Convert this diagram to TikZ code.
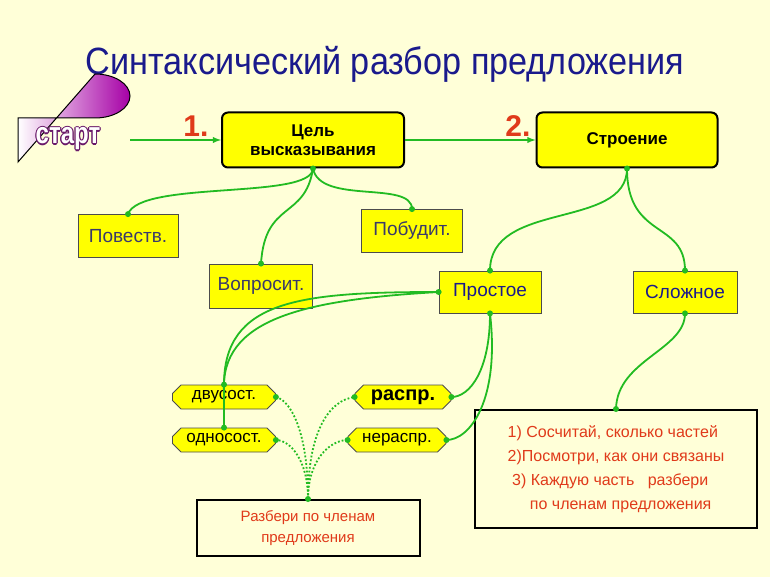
\documentclass[tikz,border=0pt]{standalone}
\usepackage{fontspec}
\setmainfont{Liberation Sans}
\usetikzlibrary{shapes.misc}
\definecolor{bg}{HTML}{FFFFD8}
\definecolor{ye}{HTML}{FFFF00}
\definecolor{gr}{HTML}{22BB22}
\definecolor{tb}{HTML}{1A1A8C}
\definecolor{tx}{HTML}{3A3A6A}
\definecolor{rd}{HTML}{E03A1A}
\definecolor{pu}{HTML}{6A1A6A}
\begin{document}
\begin{tikzpicture}[x=1pt,y=-1pt,
 ybox/.style={draw=black!70,fill=ye,line width=0.8pt,inner sep=0pt,font=\fontsize{19}{20}\selectfont\color{tx}},
 mainbox/.style={draw=black,fill=ye,line width=2pt,rounded corners=6pt,inner sep=0pt,font=\bfseries\fontsize{17}{19}\selectfont,align=center},
 oct/.style={draw=black!70,fill=ye,line width=0.8pt,chamfered rectangle,chamfered rectangle xsep=5pt,inner sep=0pt,font=\fontsize{17}{18}\selectfont},
 conn/.style={draw=gr,line width=1.8pt},
 dconn/.style={draw=gr,line width=1.8pt,dotted},
 dot/.style={circle,fill=gr,inner sep=0pt,minimum size=6pt},
 st/.style={font=\bfseries\fontsize{30}{30}\selectfont,xscale=0.8,inner sep=0pt}]
\fill[bg] (0,0) rectangle (770,577);
\useasboundingbox (0,0) rectangle (770,577);
\node[font=\fontsize{38}{40}\selectfont,text=tb,xscale=0.9] (title) at (385,64) {Синтаксический разбор предложения};
% start
\path[draw=black,line width=1pt,left color=white,right color=violet!70!magenta] (18,118) -- (95,118) arc[start angle=90,end angle=-90,x radius=35,y radius=22] -- (18,162) -- cycle;
\foreach \dx/\dy in {-1.2/0,1.2/0,0/-1.2,0/1.2,-0.9/-0.9,0.9/0.9,-0.9/0.9,0.9/-0.9}
  \node[st,text=pu] at (68+\dx,139+\dy) {старт};
\node[st,text=white] (start) at (68,139) {старт};
\coordinate (startr) at (130,140);
\node[font=\bfseries\fontsize{30}{30}\selectfont,text=rd] (n1) at (196,126) {1.};
\node[font=\bfseries\fontsize{30}{30}\selectfont,text=rd] (n2) at (518,126) {2.};
\node[mainbox,minimum width=182pt,minimum height=55pt] (cel) at (313,140) {Цель\\высказывания};
\node[mainbox,minimum width=181pt,minimum height=55pt] (str) at (627,140) {Строение};
\node[ybox,minimum width=100pt,minimum height=43pt] (pov) at (128,236) {Повеств.};
\node[ybox,minimum width=103pt,minimum height=44pt] (vop) at (261,286) {Вопросит.};
\node[ybox,minimum width=101pt,minimum height=43pt] (pob) at (412,231) {Побудит.};
\node[ybox,minimum width=102pt,minimum height=42pt,text=tb] (pro) at (490,292) {Простое};
\node[ybox,minimum width=104pt,minimum height=42pt,text=tb] (slo) at (685,292) {Сложное};
\node[oct,minimum width=103pt,minimum height=24pt] (dvu) at (224,397) {двусост.};
\node[oct,minimum width=103pt,minimum height=24pt] (odn) at (224,440) {односост.};
\node[oct,minimum width=96pt,minimum height=24pt,font=\bfseries\fontsize{20}{20}\selectfont] (ras) at (403,397) {распр.};
\node[oct,minimum width=98pt,minimum height=24pt] (ner) at (397,440) {нераспр.};
\node[draw=black,line width=2pt,minimum width=223pt,minimum height=56pt,align=center,text=rd,font=\fontsize{15}{21}\selectfont] (raz) at (308,528) {Разбери по членам\\предложения};
\node[draw=black,line width=2pt,minimum width=282pt,minimum height=118pt,align=left,text=rd,font=\fontsize{16}{24}\selectfont] (rbox) at (616,469) {1) Сосчитай, сколько частей\\2)Посмотри, как они связаны\\\ 3) Каждую часть \ \ разбери\\\ \ \ \ \ по членам предложения};
% connectors
\draw[conn,-latex] (startr) -- (cel.west);
\draw[conn,-latex] (cel.east) -- (str.west);
\draw[conn] (cel.south) .. controls (312,200) and (140,180) .. (pov.north);
\draw[conn] (cel.south) .. controls (305,220) and (265,200) .. (vop.north);
\draw[conn] (cel.south) .. controls (320,205) and (412,180) .. (pob.north);
\draw[conn] (str.south) .. controls (627,230) and (490,200) .. (pro.north);
\draw[conn] (str.south) .. controls (627,240) and (685,220) .. (slo.north);
\draw[conn] (pro.west) .. controls (300,292) and (224,300) .. (dvu.north);
\draw[conn] (pro.west) .. controls (300,300) and (220,320) .. (224,392) -- (odn.north);
\draw[conn] (pro.south) .. controls (490,370) and (470,397) .. (ras.east);
\draw[conn] (pro.south) .. controls (500,400) and (470,440) .. (ner.east);
\draw[conn] (slo.south) .. controls (685,350) and (617,360) .. (rbox.north);
\draw[dconn] (raz.north) .. controls (308,430) and (290,400) .. (dvu.east);
\draw[dconn] (raz.north) .. controls (308,460) and (290,440) .. (odn.east);
\draw[dconn] (raz.north) .. controls (308,430) and (330,400) .. (ras.west);
\draw[dconn] (raz.north) .. controls (308,460) and (330,440) .. (ner.west);
\foreach \p in {cel.south,pov.north,vop.north,pob.north,str.south,pro.north,slo.north,pro.west,dvu.north,odn.north,pro.south,ras.east,ner.east,slo.south,rbox.north,raz.north,dvu.east,odn.east,ras.west,ner.west}
  \node[dot] at (\p) {};
\end{tikzpicture}
\end{document}
